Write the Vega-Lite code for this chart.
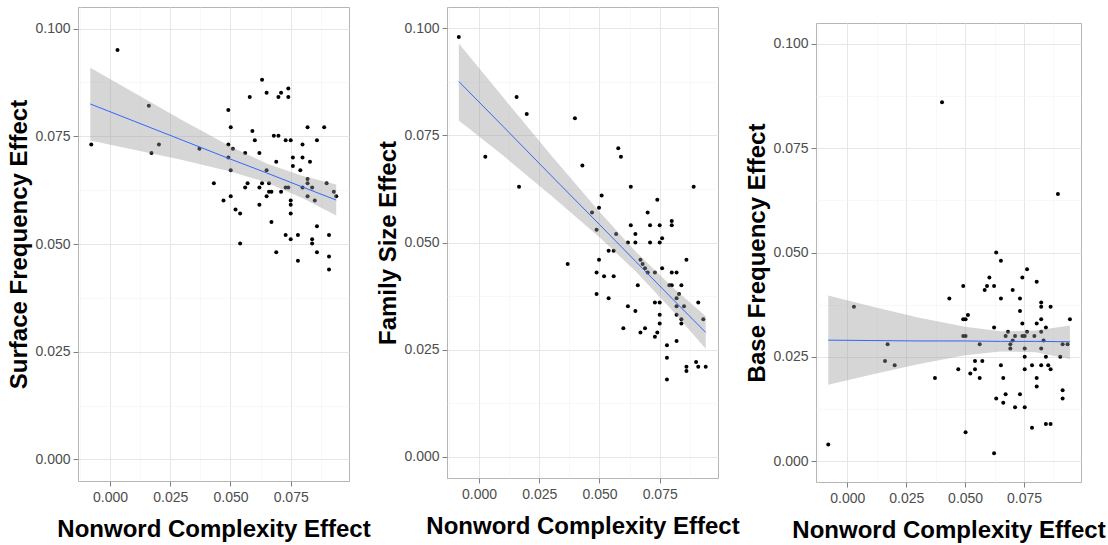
{
  "$schema": "https://vega.github.io/schema/vega-lite/v6.json",
  "background": "white",
  "padding": {"left": 7, "top": 6, "right": 0, "bottom": 0},
  "autosize": {"type": "pad"},
  "spacing": 5,
  "config": {
    "view": {"stroke": "#b5b5b5", "strokeWidth": 1},
    "axis": {
      "labelFont": "Liberation Sans", "labelFontSize": 14, "labelColor": "#4d4d4d",
      "titleFont": "Liberation Sans", "titleFontSize": 24, "titleFontWeight": "bold", "titleColor": "#000000",
      "tickColor": "#7f7f7f", "tickSize": 5, "domain": false, "labelPadding": 3, "titlePadding": 3,
      "gridColor": "#e6e6e6", "gridWidth": 1
    },
    "axisX": {"titlePadding": 13, "labelPadding": 4, "labelFlush": false}
  },
  "datasets": {
    "p1": [
      {"x":-0.0078,"y":0.0731},{"x":0.0031,"y":0.0950},{"x":0.0161,"y":0.0821},{"x":0.0172,"y":0.0711},{"x":0.0203,"y":0.0731},{"x":0.0371,"y":0.0721},{"x":0.0431,"y":0.0641},{"x":0.0471,"y":0.0601},{"x":0.0491,"y":0.0811},{"x":0.0491,"y":0.0731},{"x":0.0491,"y":0.0701},{"x":0.0501,"y":0.0771},{"x":0.0501,"y":0.0671},{"x":0.0501,"y":0.0611},{"x":0.0510,"y":0.0721},{"x":0.0521,"y":0.0580},{"x":0.0540,"y":0.0571},{"x":0.0540,"y":0.0501},{"x":0.0561,"y":0.0711},{"x":0.0561,"y":0.0631},{"x":0.0571,"y":0.0641},{"x":0.0580,"y":0.0841},{"x":0.0591,"y":0.0762},{"x":0.0601,"y":0.0741},{"x":0.0620,"y":0.0711},{"x":0.0620,"y":0.0631},{"x":0.0620,"y":0.0591},{"x":0.0631,"y":0.0881},{"x":0.0631,"y":0.0641},{"x":0.0650,"y":0.0851},{"x":0.0650,"y":0.0671},{"x":0.0650,"y":0.0611},{"x":0.0660,"y":0.0641},{"x":0.0660,"y":0.0621},{"x":0.0670,"y":0.0621},{"x":0.0670,"y":0.0551},{"x":0.0680,"y":0.0751},{"x":0.0690,"y":0.0691},{"x":0.0690,"y":0.0481},{"x":0.0699,"y":0.0841},{"x":0.0699,"y":0.0751},{"x":0.0710,"y":0.0851},{"x":0.0710,"y":0.0621},{"x":0.0729,"y":0.0741},{"x":0.0729,"y":0.0631},{"x":0.0729,"y":0.0521},{"x":0.0740,"y":0.0861},{"x":0.0740,"y":0.0841},{"x":0.0740,"y":0.0631},{"x":0.0750,"y":0.0741},{"x":0.0750,"y":0.0601},{"x":0.0750,"y":0.0591},{"x":0.0750,"y":0.0571},{"x":0.0750,"y":0.0511},{"x":0.0759,"y":0.0701},{"x":0.0759,"y":0.0681},{"x":0.0780,"y":0.0521},{"x":0.0780,"y":0.0461},{"x":0.0790,"y":0.0671},{"x":0.0799,"y":0.0731},{"x":0.0799,"y":0.0701},{"x":0.0799,"y":0.0631},{"x":0.0820,"y":0.0771},{"x":0.0820,"y":0.0651},{"x":0.0820,"y":0.0641},{"x":0.0820,"y":0.0611},{"x":0.0830,"y":0.0691},{"x":0.0839,"y":0.0631},{"x":0.0839,"y":0.0511},{"x":0.0839,"y":0.0501},{"x":0.0850,"y":0.0601},{"x":0.0859,"y":0.0741},{"x":0.0859,"y":0.0541},{"x":0.0859,"y":0.0481},{"x":0.0889,"y":0.0771},{"x":0.0899,"y":0.0641},{"x":0.0909,"y":0.0521},{"x":0.0909,"y":0.0471},{"x":0.0909,"y":0.0441},{"x":0.0929,"y":0.0621},{"x":0.0939,"y":0.0611}
    ],
    "b1": [
      {"x":-0.0082,"lo":0.0740,"fit":0.0825,"hi":0.0909},
      {"x":0.010,"lo":0.0719,"fit":0.0785,"hi":0.0851},
      {"x":0.030,"lo":0.0695,"fit":0.0741,"hi":0.0787},
      {"x":0.050,"lo":0.0668,"fit":0.0697,"hi":0.0726},
      {"x":0.065,"lo":0.0643,"fit":0.0665,"hi":0.0687},
      {"x":0.080,"lo":0.0606,"fit":0.0632,"hi":0.0658},
      {"x":0.0939,"lo":0.0566,"fit":0.0602,"hi":0.0638}
    ],
    "p2": [
      {"x":-0.0084,"y":0.0980},{"x":0.0026,"y":0.0700},{"x":0.0156,"y":0.0840},{"x":0.0166,"y":0.0630},{"x":0.0198,"y":0.0800},{"x":0.0368,"y":0.0450},{"x":0.0398,"y":0.0790},{"x":0.0429,"y":0.0680},{"x":0.0469,"y":0.0570},{"x":0.0488,"y":0.0530},{"x":0.0488,"y":0.0430},{"x":0.0488,"y":0.0380},{"x":0.0498,"y":0.0581},{"x":0.0498,"y":0.0460},{"x":0.0509,"y":0.0610},{"x":0.0519,"y":0.0421},{"x":0.0538,"y":0.0481},{"x":0.0538,"y":0.0370},{"x":0.0559,"y":0.0481},{"x":0.0559,"y":0.0421},{"x":0.0569,"y":0.0520},{"x":0.0578,"y":0.0720},{"x":0.0589,"y":0.0700},{"x":0.0599,"y":0.0300},{"x":0.0618,"y":0.0500},{"x":0.0618,"y":0.0351},{"x":0.0630,"y":0.0630},{"x":0.0630,"y":0.0540},{"x":0.0649,"y":0.0520},{"x":0.0649,"y":0.0500},{"x":0.0649,"y":0.0340},{"x":0.0659,"y":0.0400},{"x":0.0670,"y":0.0460},{"x":0.0670,"y":0.0290},{"x":0.0679,"y":0.0450},{"x":0.0689,"y":0.0440},{"x":0.0689,"y":0.0300},{"x":0.0700,"y":0.0570},{"x":0.0700,"y":0.0430},{"x":0.0710,"y":0.0540},{"x":0.0710,"y":0.0500},{"x":0.0730,"y":0.0430},{"x":0.0730,"y":0.0360},{"x":0.0730,"y":0.0280},{"x":0.0740,"y":0.0600},{"x":0.0740,"y":0.0290},{"x":0.0750,"y":0.0540},{"x":0.0750,"y":0.0500},{"x":0.0750,"y":0.0360},{"x":0.0750,"y":0.0331},{"x":0.0750,"y":0.0311},{"x":0.0760,"y":0.0510},{"x":0.0760,"y":0.0440},{"x":0.0780,"y":0.0260},{"x":0.0780,"y":0.0231},{"x":0.0780,"y":0.0180},{"x":0.0790,"y":0.0400},{"x":0.0800,"y":0.0550},{"x":0.0800,"y":0.0540},{"x":0.0800,"y":0.0430},{"x":0.0800,"y":0.0400},{"x":0.0820,"y":0.0430},{"x":0.0820,"y":0.0370},{"x":0.0820,"y":0.0351},{"x":0.0820,"y":0.0331},{"x":0.0820,"y":0.0270},{"x":0.0830,"y":0.0380},{"x":0.0840,"y":0.0400},{"x":0.0840,"y":0.0321},{"x":0.0840,"y":0.0311},{"x":0.0851,"y":0.0351},{"x":0.0861,"y":0.0460},{"x":0.0861,"y":0.0210},{"x":0.0861,"y":0.0200},{"x":0.0891,"y":0.0630},{"x":0.0901,"y":0.0221},{"x":0.0910,"y":0.0360},{"x":0.0910,"y":0.0210},{"x":0.0931,"y":0.0321},{"x":0.0941,"y":0.0210}
    ],
    "b2": [
      {"x":-0.0084,"lo":0.0785,"fit":0.0876,"hi":0.0965},
      {"x":0.010,"lo":0.0703,"fit":0.0771,"hi":0.0839},
      {"x":0.030,"lo":0.0609,"fit":0.0656,"hi":0.0703},
      {"x":0.050,"lo":0.0512,"fit":0.0542,"hi":0.0572},
      {"x":0.065,"lo":0.0433,"fit":0.0456,"hi":0.0479},
      {"x":0.080,"lo":0.0343,"fit":0.0370,"hi":0.0397},
      {"x":0.0941,"lo":0.0252,"fit":0.0290,"hi":0.0328}
    ],
    "p3": [
      {"x":-0.0081,"y":0.0040},{"x":0.0028,"y":0.0370},{"x":0.0160,"y":0.0240},{"x":0.0171,"y":0.0280},{"x":0.0201,"y":0.0230},{"x":0.0372,"y":0.0199},{"x":0.0402,"y":0.0860},{"x":0.0433,"y":0.0390},{"x":0.0471,"y":0.0220},{"x":0.0492,"y":0.0420},{"x":0.0492,"y":0.0340},{"x":0.0492,"y":0.0300},{"x":0.0502,"y":0.0340},{"x":0.0502,"y":0.0300},{"x":0.0502,"y":0.0069},{"x":0.0512,"y":0.0350},{"x":0.0522,"y":0.0210},{"x":0.0542,"y":0.0240},{"x":0.0542,"y":0.0220},{"x":0.0562,"y":0.0280},{"x":0.0562,"y":0.0199},{"x":0.0573,"y":0.0240},{"x":0.0583,"y":0.0410},{"x":0.0593,"y":0.0420},{"x":0.0603,"y":0.0440},{"x":0.0623,"y":0.0420},{"x":0.0623,"y":0.0320},{"x":0.0623,"y":0.0019},{"x":0.0632,"y":0.0150},{"x":0.0652,"y":0.0480},{"x":0.0652,"y":0.0390},{"x":0.0652,"y":0.0230},{"x":0.0632,"y":0.0500},{"x":0.0662,"y":0.0199},{"x":0.0662,"y":0.0140},{"x":0.0672,"y":0.0300},{"x":0.0672,"y":0.0160},{"x":0.0682,"y":0.0310},{"x":0.0692,"y":0.0280},{"x":0.0692,"y":0.0270},{"x":0.0702,"y":0.0410},{"x":0.0702,"y":0.0289},{"x":0.0712,"y":0.0300},{"x":0.0712,"y":0.0129},{"x":0.0733,"y":0.0390},{"x":0.0733,"y":0.0360},{"x":0.0733,"y":0.0160},{"x":0.0743,"y":0.0440},{"x":0.0743,"y":0.0330},{"x":0.0743,"y":0.0300},{"x":0.0753,"y":0.0300},{"x":0.0753,"y":0.0270},{"x":0.0753,"y":0.0250},{"x":0.0753,"y":0.0220},{"x":0.0753,"y":0.0129},{"x":0.0763,"y":0.0460},{"x":0.0763,"y":0.0310},{"x":0.0784,"y":0.0230},{"x":0.0784,"y":0.0080},{"x":0.0794,"y":0.0300},{"x":0.0804,"y":0.0430},{"x":0.0804,"y":0.0330},{"x":0.0804,"y":0.0199},{"x":0.0804,"y":0.0179},{"x":0.0823,"y":0.0380},{"x":0.0823,"y":0.0370},{"x":0.0823,"y":0.0340},{"x":0.0823,"y":0.0310},{"x":0.0823,"y":0.0270},{"x":0.0823,"y":0.0230},{"x":0.0833,"y":0.0289},{"x":0.0843,"y":0.0320},{"x":0.0843,"y":0.0250},{"x":0.0843,"y":0.0089},{"x":0.0853,"y":0.0230},{"x":0.0863,"y":0.0370},{"x":0.0863,"y":0.0220},{"x":0.0863,"y":0.0089},{"x":0.0894,"y":0.0640},{"x":0.0904,"y":0.0250},{"x":0.0914,"y":0.0280},{"x":0.0914,"y":0.0170},{"x":0.0914,"y":0.0150},{"x":0.0935,"y":0.0280},{"x":0.0945,"y":0.0340}
    ],
    "b3": [
      {"x":-0.0081,"lo":0.0183,"fit":0.0290,"hi":0.0397},
      {"x":0.010,"lo":0.0207,"fit":0.0289,"hi":0.0371},
      {"x":0.030,"lo":0.0232,"fit":0.0288,"hi":0.0344},
      {"x":0.050,"lo":0.0254,"fit":0.0288,"hi":0.0322},
      {"x":0.065,"lo":0.0263,"fit":0.0287,"hi":0.0311},
      {"x":0.080,"lo":0.0261,"fit":0.0287,"hi":0.0313},
      {"x":0.0945,"lo":0.0245,"fit":0.0286,"hi":0.0325}
    ]
  },
  "hconcat": [
    {
      "width": 271, "height": 474,
      "resolve": {"axis": {"x": "independent", "y": "independent"}},
      "layer": [
        {
          "data": {"name": "b1"},
          "mark": {"type": "area", "opacity": 0},
          "encoding": {
            "x": {"field": "x", "type": "quantitative",
              "scale": {"domain": [-0.0133, 0.0992], "nice": false, "zero": false},
              "axis": {"orient": "bottom", "values": [-0.0125, 0.0125, 0.0375, 0.0625, 0.0875], "grid": true, "gridColor": "#f3f3f3", "gridWidth": 0.6, "labels": false, "ticks": false, "domain": false, "title": null}},
            "y": {"field": "lo", "type": "quantitative",
              "scale": {"domain": [-0.005, 0.105], "nice": false, "zero": false},
              "axis": {"orient": "left", "values": [0.0125, 0.0375, 0.0625, 0.0875], "grid": true, "gridColor": "#f3f3f3", "gridWidth": 0.6, "labels": false, "ticks": false, "domain": false, "title": null}},
            "y2": {"field": "hi"}
          }
        },
        {
          "data": {"name": "p1"},
          "mark": {"type": "circle", "color": "#000000", "size": 16, "opacity": 1},
          "encoding": {
            "x": {"field": "x", "type": "quantitative",
              "axis": {"orient": "bottom", "title": "Nonword Complexity Effect", "format": ".3f", "values": [0, 0.025, 0.05, 0.075], "grid": true}},
            "y": {"field": "y", "type": "quantitative",
              "axis": {"orient": "left", "title": "Surface Frequency Effect", "format": ".3f", "values": [0, 0.025, 0.05, 0.075, 0.1], "grid": true}}
          }
        },
        {
          "data": {"name": "b1"},
          "mark": {"type": "area", "color": "#999999", "opacity": 0.4},
          "encoding": {
            "x": {"field": "x", "type": "quantitative", "axis": null},
            "y": {"field": "lo", "type": "quantitative", "axis": null},
            "y2": {"field": "hi"}
          }
        },
        {
          "data": {"name": "b1"},
          "mark": {"type": "line", "color": "#3366FF", "strokeWidth": 1},
          "encoding": {
            "x": {"field": "x", "type": "quantitative", "axis": null},
            "y": {"field": "fit", "type": "quantitative", "axis": null}
          }
        }
      ]
    },
    {
      "width": 271, "height": 471,
      "resolve": {"axis": {"x": "independent", "y": "independent"}},
      "layer": [
        {
          "data": {"name": "b2"},
          "mark": {"type": "area", "opacity": 0},
          "encoding": {
            "x": {"field": "x", "type": "quantitative",
              "scale": {"domain": [-0.0133, 0.0992], "nice": false, "zero": false},
              "axis": {"orient": "bottom", "values": [-0.0125, 0.0125, 0.0375, 0.0625, 0.0875], "grid": true, "gridColor": "#f3f3f3", "gridWidth": 0.6, "labels": false, "ticks": false, "domain": false, "title": null}},
            "y": {"field": "lo", "type": "quantitative",
              "scale": {"domain": [-0.005, 0.105], "nice": false, "zero": false},
              "axis": {"orient": "left", "values": [0.0125, 0.0375, 0.0625, 0.0875], "grid": true, "gridColor": "#f3f3f3", "gridWidth": 0.6, "labels": false, "ticks": false, "domain": false, "title": null}},
            "y2": {"field": "hi"}
          }
        },
        {
          "data": {"name": "p2"},
          "mark": {"type": "circle", "color": "#000000", "size": 16, "opacity": 1},
          "encoding": {
            "x": {"field": "x", "type": "quantitative",
              "axis": {"orient": "bottom", "title": "Nonword Complexity Effect", "format": ".3f", "values": [0, 0.025, 0.05, 0.075], "grid": true}},
            "y": {"field": "y", "type": "quantitative",
              "axis": {"orient": "left", "title": "Family Size Effect", "format": ".3f", "values": [0, 0.025, 0.05, 0.075, 0.1], "grid": true}}
          }
        },
        {
          "data": {"name": "b2"},
          "mark": {"type": "area", "color": "#999999", "opacity": 0.4},
          "encoding": {
            "x": {"field": "x", "type": "quantitative", "axis": null},
            "y": {"field": "lo", "type": "quantitative", "axis": null},
            "y2": {"field": "hi"}
          }
        },
        {
          "data": {"name": "b2"},
          "mark": {"type": "line", "color": "#3366FF", "strokeWidth": 1},
          "encoding": {
            "x": {"field": "x", "type": "quantitative", "axis": null},
            "y": {"field": "fit", "type": "quantitative", "axis": null}
          }
        }
      ]
    },
    {
      "spacing": 14,
      "vconcat": [
        {
          "width": 265, "height": 1,
          "view": {"stroke": null},
          "data": {"values": [{"k": 1}]},
          "mark": {"type": "point", "opacity": 0, "size": 0}
        },
        {
          "width": 265, "height": 459,
          "resolve": {"axis": {"x": "independent", "y": "independent"}},
          "layer": [
            {
              "data": {"name": "b3"},
              "mark": {"type": "area", "opacity": 0},
              "encoding": {
                "x": {"field": "x", "type": "quantitative",
                  "scale": {"domain": [-0.0133, 0.0992], "nice": false, "zero": false},
                  "axis": {"orient": "bottom", "values": [-0.0125, 0.0125, 0.0375, 0.0625, 0.0875], "grid": true, "gridColor": "#f3f3f3", "gridWidth": 0.6, "labels": false, "ticks": false, "domain": false, "title": null}},
                "y": {"field": "lo", "type": "quantitative",
                  "scale": {"domain": [-0.005, 0.105], "nice": false, "zero": false},
                  "axis": {"orient": "left", "values": [0.0125, 0.0375, 0.0625, 0.0875], "grid": true, "gridColor": "#f3f3f3", "gridWidth": 0.6, "labels": false, "ticks": false, "domain": false, "title": null}},
                "y2": {"field": "hi"}
              }
            },
            {
              "data": {"name": "p3"},
              "mark": {"type": "circle", "color": "#000000", "size": 16, "opacity": 1},
              "encoding": {
                "x": {"field": "x", "type": "quantitative",
                  "axis": {"orient": "bottom", "title": "Nonword Complexity Effect", "format": ".3f", "values": [0, 0.025, 0.05, 0.075], "grid": true}},
                "y": {"field": "y", "type": "quantitative",
                  "axis": {"orient": "left", "title": "Base Frequency Effect", "format": ".3f", "values": [0, 0.025, 0.05, 0.075, 0.1], "grid": true}}
              }
            },
            {
              "data": {"name": "b3"},
              "mark": {"type": "area", "color": "#999999", "opacity": 0.4},
              "encoding": {
                "x": {"field": "x", "type": "quantitative", "axis": null},
                "y": {"field": "lo", "type": "quantitative", "axis": null},
                "y2": {"field": "hi"}
              }
            },
            {
              "data": {"name": "b3"},
              "mark": {"type": "line", "color": "#3366FF", "strokeWidth": 1},
              "encoding": {
                "x": {"field": "x", "type": "quantitative", "axis": null},
                "y": {"field": "fit", "type": "quantitative", "axis": null}
              }
            }
          ]
        }
      ]
    }
  ]
}
